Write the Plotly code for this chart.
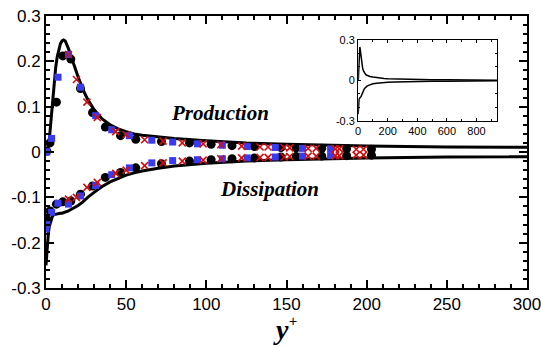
import plotly.graph_objects as go

# ---------------- data ----------------
# reference (solid line) profiles
line_yplus = [0, 0.5, 1, 1.5, 2, 3, 4, 5, 6, 7, 8, 9, 10, 11, 12, 13, 14, 15, 16, 18, 20,
              23, 26, 30, 35, 40, 45, 50, 55, 60, 70, 80, 100, 125, 150, 175, 200, 250,
              300, 400, 500, 600, 700, 800, 940]
line_prod = [0.0, 0.001, 0.004, 0.012, 0.025, 0.065, 0.11, 0.15, 0.185, 0.21, 0.228, 0.239,
             0.245, 0.247, 0.245, 0.238, 0.228, 0.218, 0.207, 0.186, 0.166,
             0.138, 0.116, 0.093, 0.073, 0.06, 0.051, 0.045, 0.04, 0.037, 0.033, 0.03,
             0.025, 0.02, 0.017, 0.015, 0.013, 0.011, 0.009, 0.007, 0.006, 0.005, 0.004,
             0.003, 0.002]
line_diss = [-0.25, -0.22, -0.195, -0.178, -0.165, -0.15, -0.142, -0.138, -0.137, -0.136,
             -0.135, -0.135, -0.135, -0.134, -0.133, -0.132, -0.13, -0.128, -0.126, -0.122,
             -0.118, -0.11, -0.1, -0.089, -0.076, -0.066, -0.058, -0.051, -0.046, -0.042,
             -0.036, -0.031, -0.025, -0.02, -0.017, -0.015, -0.013, -0.011, -0.009, -0.007,
             -0.006, -0.005, -0.004, -0.003, -0.002]

# black circles
circ_yplus = [0.5, 2.5, 6.5, 10.5, 15.5, 21.5, 29, 37, 46.5, 56, 72, 89.5, 103, 116, 130,
              146.5, 156, 172, 187.5, 203]
circ_prod = [0.002, 0.02, 0.11, 0.212, 0.205, 0.14, 0.087, 0.055, 0.036, 0.028, 0.023, 0.02,
             0.017, 0.014, 0.012, 0.01, 0.009, 0.008, 0.007, 0.006]
circ_diss = [-0.148, -0.13, -0.115, -0.11, -0.108, -0.093, -0.075, -0.056, -0.045, -0.035,
             -0.026, -0.02, -0.017, -0.015, -0.013, -0.011, -0.01, -0.009, -0.008, -0.007]

# blue squares
sq_yplus = [0, 0.5, 3.5, 7.5, 14, 21.5, 31, 41, 52, 66, 79, 94.5, 110, 125.5, 143, 160, 177.5]
sq_prod = [0.0, 0.0, 0.03, 0.165, 0.215, 0.143, 0.08, 0.049, 0.036, 0.026, 0.022, 0.018,
           0.015, 0.012, 0.01, 0.008, 0.007]
sq_diss = [-0.17, -0.16, -0.133, -0.113, -0.115, -0.097, -0.074, -0.05, -0.035, -0.024,
           -0.019, -0.017, -0.015, -0.013, -0.011, -0.009, -0.008]

# red crosses
x_yplus = [14, 19, 25.5, 32, 43.5, 50, 61.5, 73, 85, 98, 109, 122, 133.5, 138.5, 148.5, 152,
           163.5, 168.5, 180.5, 183, 193.5, 198]
x_prod = [0.215, 0.16, 0.11, 0.076, 0.045, 0.038, 0.027, 0.024, 0.02, 0.018, 0.016, 0.013,
          0.011, 0.011, 0.01, 0.009, 0.008, 0.008, 0.007, 0.007, 0.006, 0.006]
x_diss = [-0.104, -0.1, -0.078, -0.067, -0.047, -0.04, -0.03, -0.024, -0.02, -0.018, -0.015,
          -0.013, -0.012, -0.012, -0.011, -0.01, -0.009, -0.009, -0.008, -0.008, -0.007, -0.007]

x_ticks = [0, 50, 100, 150, 200, 250, 300]
x_ticklabels = ["0", "50", "100", "150", "200", "250", "300"]
y_ticks = [-0.3, -0.2, -0.1, 0, 0.1, 0.2, 0.3]
y_ticklabels = ["-0.3", "-0.2", "-0.1", "0", "0.1", "0.2", "0.3"]

inset_x_ticks = [0, 200, 400, 600, 800]
inset_x_ticklabels = ["0", "200", "400", "600", "800"]
inset_y_ticks = [-0.3, 0, 0.3]
inset_y_ticklabels = ["-0.3", "0", "0.3"]

# ---------------- figure ----------------
fig = go.Figure()

for ys in (line_prod, line_diss):
    fig.add_trace(go.Scatter(x=line_yplus, y=ys, mode="lines",
                             line=dict(color="black", width=3), hoverinfo="skip"))

for ys in (circ_prod, circ_diss):
    fig.add_trace(go.Scatter(x=circ_yplus, y=ys, mode="markers",
                             marker=dict(symbol="circle", size=9, color="black")))
for ys in (sq_prod, sq_diss):
    fig.add_trace(go.Scatter(x=sq_yplus, y=ys, mode="markers",
                             marker=dict(symbol="square", size=7, color="#3a3af0")))
for ys in (x_prod, x_diss):
    fig.add_trace(go.Scatter(x=x_yplus, y=ys, mode="markers",
                             marker=dict(symbol="x-thin", size=7, color="#d01010",
                                         line=dict(color="#d01010", width=1.6))))

# inset
for ys in (line_prod, line_diss):
    fig.add_trace(go.Scatter(x=line_yplus, y=ys, mode="lines", xaxis="x2", yaxis="y2",
                             line=dict(color="black", width=1.5), hoverinfo="skip"))

tickfont = dict(family="Liberation Sans, Arial, sans-serif", size=17, color="black")
fig.update_layout(
    width=541, height=347,
    margin=dict(l=46, r=14, t=16, b=59, autoexpand=False),
    paper_bgcolor="white", plot_bgcolor="white",
    showlegend=False,
    xaxis=dict(range=[0, 300], tickmode="array", tickvals=x_ticks, ticktext=x_ticklabels,
               ticks="inside", ticklen=8, tickwidth=2, tickcolor="black",
               minor=dict(dtick=10, ticks="inside", ticklen=4, tickwidth=1.5, tickcolor="black"),
               showline=True, linewidth=2, linecolor="black", mirror="allticks",
               showgrid=False, zeroline=False, tickfont=tickfont, domain=[0, 1],
               ticklabeloverflow="allow", automargin=False),
    yaxis=dict(range=[-0.3, 0.3], tickmode="array", tickvals=y_ticks, ticktext=y_ticklabels,
               ticks="inside", ticklen=8, tickwidth=2, tickcolor="black",
               minor=dict(dtick=0.02, ticks="inside", ticklen=4, tickwidth=1.5, tickcolor="black"),
               showline=True, linewidth=2, linecolor="black", mirror="allticks",
               showgrid=False, zeroline=False, tickfont=tickfont, domain=[0, 1],
               ticklabeloverflow="allow", automargin=False),
    xaxis2=dict(range=[0, 940], domain=[0.649, 0.938], anchor="y2",
                tickmode="array", tickvals=inset_x_ticks, ticktext=inset_x_ticklabels,
                ticks="inside", ticklen=3, tickwidth=1, tickcolor="black",
                minor=dict(dtick=100, ticks="inside", ticklen=2, tickwidth=1, tickcolor="black"),
                showline=True, linewidth=1.2, linecolor="black", mirror="allticks",
                showgrid=False, zeroline=False, automargin=False,
                tickfont=dict(family="Liberation Sans, Arial, sans-serif", size=11, color="black")),
    yaxis2=dict(range=[-0.3, 0.3], domain=[0.614, 0.912], anchor="x2",
                tickmode="array", tickvals=inset_y_ticks, ticktext=inset_y_ticklabels,
                ticks="inside", ticklen=3, tickwidth=1, tickcolor="black",
                minor=dict(dtick=0.1, ticks="inside", ticklen=2, tickwidth=1, tickcolor="black"),
                showline=True, linewidth=1.2, linecolor="black", mirror="allticks",
                showgrid=False, zeroline=False, automargin=False,
                tickfont=dict(family="Liberation Sans, Arial, sans-serif", size=11, color="black")),
)

serif = "Liberation Serif, Times New Roman, serif"
fig.add_annotation(text="<b><i>Production</i></b>", x=0.361, y=0.643, xref="paper", yref="paper",
                   showarrow=False, font=dict(family=serif, size=21, color="black"),
                   xanchor="center", yanchor="middle")
fig.add_annotation(text="<b><i>Dissipation</i></b>", x=0.464, y=0.364, xref="paper", yref="paper",
                   showarrow=False, font=dict(family=serif, size=21, color="black"),
                   xanchor="center", yanchor="middle")
fig.add_annotation(text="<b><i>y</i></b>", x=0.488, y=-0.152, xref="paper", yref="paper",
                   showarrow=False, font=dict(family=serif, size=28, color="black"),
                   xanchor="center", yanchor="middle")
fig.add_annotation(text="+", x=0.5135, y=-0.122, xref="paper", yref="paper",
                   showarrow=False, font=dict(family="Liberation Sans, Arial, sans-serif",
                                              size=14, color="black"),
                   xanchor="center", yanchor="middle")

fig.write_html("out.html")
